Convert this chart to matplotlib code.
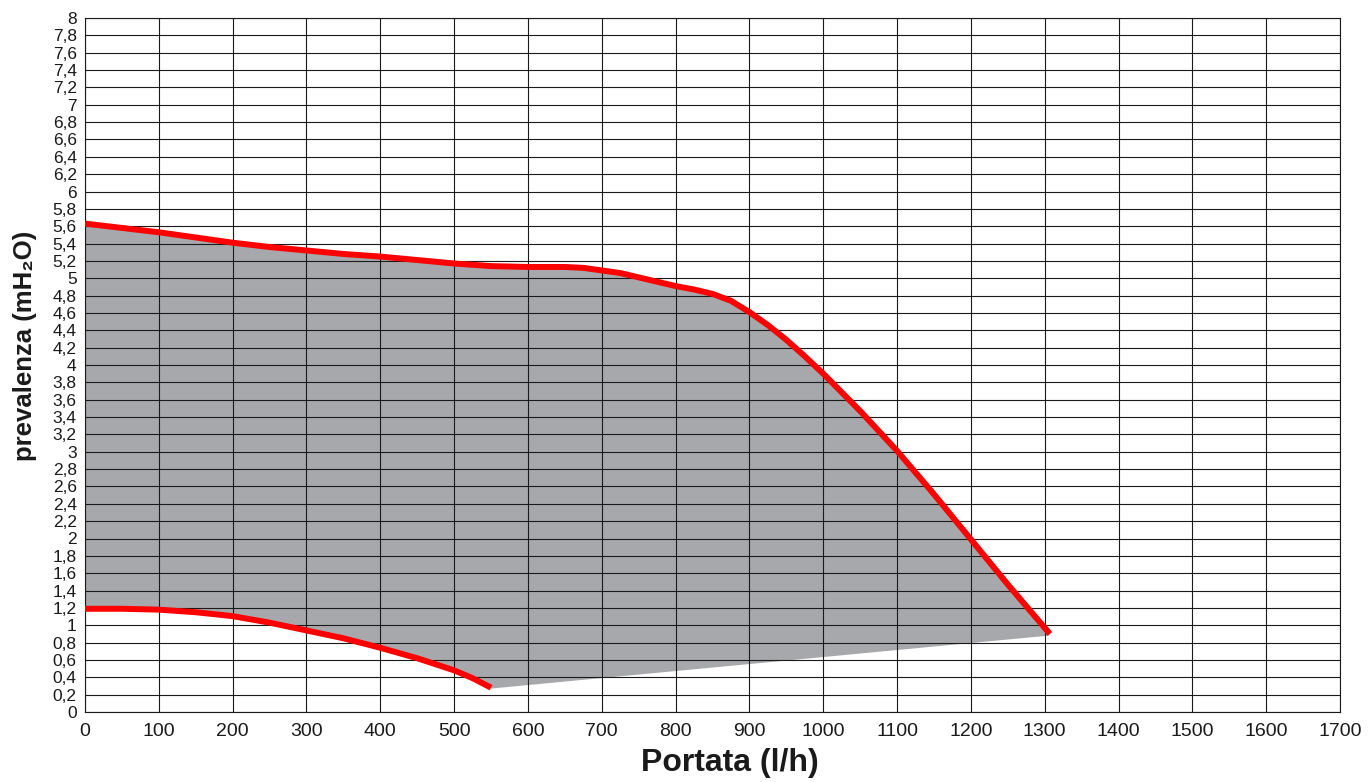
import matplotlib
matplotlib.use('Agg')
import matplotlib.pyplot as plt
from matplotlib import font_manager

# Valori: portata (l/h) e prevalenza (mH2O)
curva_max_q = [0, 50, 100, 150, 200, 250, 300, 350, 400, 450, 500, 550, 600, 650, 675,
               700, 725, 750, 775, 800, 825, 850, 875, 900, 925, 950, 975, 1000, 1050,
               1100, 1150, 1200, 1250, 1300, 1307]
curva_max_h = [5.63, 5.58, 5.53, 5.47, 5.41, 5.36, 5.32, 5.28, 5.25, 5.21, 5.17, 5.14, 5.13, 5.13, 5.12,
               5.09, 5.06, 5.01, 4.96, 4.91, 4.87, 4.82, 4.74, 4.61, 4.46, 4.29, 4.10, 3.90, 3.47,
               3.01, 2.51, 1.99, 1.47, 0.97, 0.90]

curva_min_q = [0, 50, 100, 150, 200, 250, 300, 350, 400, 450, 500, 525, 550]
curva_min_h = [1.19, 1.19, 1.18, 1.15, 1.105, 1.03, 0.94, 0.85, 0.74, 0.62, 0.48, 0.39, 0.28]

# bordo inferiore dell'area grigia
bordo_q = [1305, 550]
bordo_h = [0.88, 0.27]

x_ticks = list(range(0, 1800, 100))
y_ticks = [i / 5 for i in range(41)]
y_labels = [('%g' % v).replace('.', ',') for v in y_ticks]

# font tipo Helvetica
nomi = {f.name for f in font_manager.fontManager.ttflist}
font_base = 'Liberation Sans' if 'Liberation Sans' in nomi else 'DejaVu Sans'
plt.rcParams['font.family'] = [font_base, 'DejaVu Sans']

fig = plt.figure(figsize=(13.68, 7.82), dpi=100)
ax = fig.add_axes([85 / 1368, 70 / 782, 1255 / 1368, 694 / 782])

# area di funzionamento
fill_q = curva_max_q + bordo_q + curva_min_q[::-1]
fill_h = curva_max_h + bordo_h + curva_min_h[::-1]
ax.fill(fill_q, fill_h, color='#a7a8ab', lw=0, zorder=1)

ax.plot(curva_max_q, curva_max_h, color='#ff0000', lw=4.3,
        solid_capstyle='butt', solid_joinstyle='round', zorder=3)
ax.plot(curva_min_q, curva_min_h, color='#ff0000', lw=4.3,
        solid_capstyle='butt', solid_joinstyle='round', zorder=3)

ax.set_xlim(0, 1700)
ax.set_ylim(0, 8)
ax.set_xticks(x_ticks)
ax.set_yticks(y_ticks)
ax.set_yticklabels(y_labels)
ax.set_axisbelow(False)
ax.grid(True, color='#1a1a1a', lw=0.8, zorder=2)
ax.tick_params(length=0)
ax.tick_params(axis='y', labelsize=12.5, pad=6, colors='#1a1a1a')
ax.tick_params(axis='x', labelsize=14, pad=8, colors='#1a1a1a')
for s in ax.spines.values():
    s.set_linewidth(0.8)
    s.set_color('#1a1a1a')

ax.set_xlabel('Portata (l/h)', fontsize=23, fontweight='bold', color='#1a1a1a', va='center')
ax.xaxis.set_label_coords(0.514, -0.0735)
ax.set_ylabel('prevalenza (mH₂O)', fontsize=18.5, fontweight='bold', color='#1a1a1a', va='center')
ax.yaxis.set_label_coords(-0.048, 0.527)

fig.savefig('out.png', dpi=100)
